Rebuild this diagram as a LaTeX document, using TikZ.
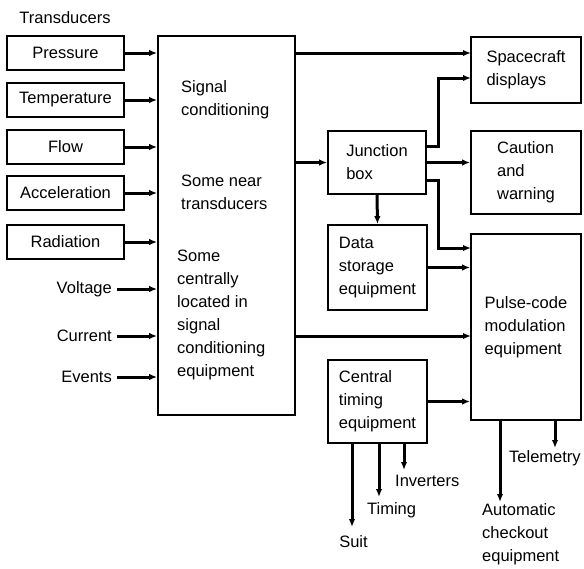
\documentclass[tikz,border=0pt]{standalone}
\usepackage{fontspec}
\setmainfont{Liberation Sans}
\usetikzlibrary{arrows.meta,calc}
\begin{document}
\begin{tikzpicture}[x=1pt,y=-1pt,
  every node/.style={font=\fontsize{16.5}{23}\selectfont},
  box/.style={draw,line width=1.8pt,inner sep=0pt,align=left},
  tbox/.style={box,minimum width=117pt,minimum height=34pt},
  arr/.style={line width=3pt,-{Latex[length=8pt,width=6.5pt]}},
  lbl/.style={inner sep=0pt}]
\useasboundingbox (0,0) rectangle (584,568);
% transducers
\node[lbl] (title) at (65,18) {Transducers};
\node[tbox] (pres) at (65.5,53) {Pressure};
\node[tbox] (temp) at (65.5,100) {Temperature};
\node[tbox] (flow) at (65.5,147) {Flow};
\node[tbox] (acc) at (65.5,193) {Acceleration};
\node[tbox] (rad) at (65.5,242) {Radiation};
\node[lbl,anchor=east] (volt) at (112,289) {Voltage};
\node[lbl,anchor=east] (curr) at (112,336) {Current};
\node[lbl,anchor=east] (evt) at (112,377) {Events};
% signal conditioning
\node[box,minimum width=137pt,minimum height=379pt] (sig) at (226.5,225.5) {};
\node[lbl,anchor=north west,align=left] (t1) at (181,80) {Signal\\conditioning};
\node[lbl,anchor=north west,align=left] (t2) at (181,175) {Some near\\transducers};
\node[lbl,anchor=north west,align=left] (t3) at (177,250) {Some\\centrally\\located in\\signal\\conditioning\\equipment};
% right boxes
\node[box,minimum width=110pt,minimum height=66pt] (sc) at (526,70) {Spacecraft\\displays};
\node[box,minimum width=110pt,minimum height=83pt] (cw) at (526,172.5) {Caution\\and\\warning};
\node[box,minimum width=110pt,minimum height=186pt] (pcm) at (526,327) {Pulse-code\\modulation\\equipment};
\node[box,minimum width=98pt,minimum height=63pt] (jb) at (377,162.5) {Junction\\box\hspace{12pt}\hphantom{n}};
\node[box,minimum width=99pt,minimum height=85pt] (ds) at (377.5,267.5) {Data\\storage\\equipment};
\node[box,minimum width=99pt,minimum height=83pt] (ct) at (377.5,401.5) {Central\\timing\\equipment};
% inputs to signal conditioning
\foreach \n in {pres,temp,flow,acc,rad}
  \draw[arr] (\n.east) -- (\n.east -| sig.west);
\foreach \n in {volt,curr,evt}
  \draw[arr] ([xshift=5pt]\n.east) -- (\n.east -| sig.west);
% from signal conditioning
\coordinate (scA) at (471,53);
\coordinate (scB) at (471,78);
\draw[arr] (sig.east |- scA) -- (scA);
\draw[arr] (sig.east |- jb.west) -- (jb.west);
\coordinate (pcmC) at (471,336);
\draw[arr] (sig.east |- pcmC) -- (pcmC);
% junction box outputs
\coordinate (jbA) at (426,146);
\coordinate (jbB) at (426,180);
\coordinate (pcmA) at (471,248);
\draw[arr] (jbA) -- (438,146) -- (438,78) -- (scB);
\draw[arr] (jb.east) -- (jb.east -| cw.west);
\draw[arr] (jbB) -- (438,180) -- (438,248) -- (pcmA);
\draw[arr] (jb.south) -- (ds.north);
\draw[arr] (ds.east) -- (ds.east -| pcm.west);
\draw[arr] (ct.east) -- (ct.east -| pcm.west);
% timing outputs
\node[lbl] (suit) at (353.5,542) {Suit};
\node[lbl,anchor=west] (timg) at (367,510) {Timing};
\node[lbl,anchor=west] (inv) at (395,481) {Inverters};
\coordinate (eS) at (352,527);
\coordinate (eT) at (379,497);
\coordinate (eI) at (404,470);
\draw[arr] (ct.south -| eS) -- (eS);
\draw[arr] (ct.south -| eT) -- (eT);
\draw[arr] (ct.south -| eI) -- (eI);
% pcm outputs
\node[lbl,anchor=north west,align=left] (auto) at (482,503) {Automatic\\checkout\\equipment};
\node[lbl,anchor=west] (tel) at (509,458) {Telemetry};
\coordinate (eA) at (500,502);
\coordinate (eTl) at (555,448);
\draw[arr] (pcm.south -| eA) -- (eA);
\draw[arr] (pcm.south -| eTl) -- (eTl);
\end{tikzpicture}
\end{document}
